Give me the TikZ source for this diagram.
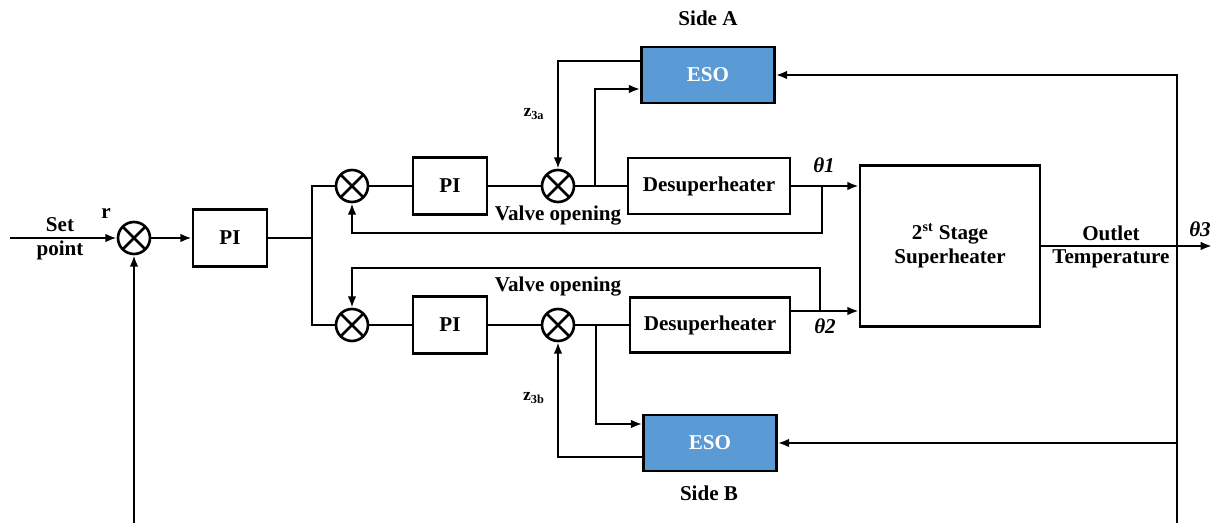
\documentclass[tikz,border=0pt]{standalone}
\usepackage{fontspec}
\setmainfont{Liberation Serif}
\usetikzlibrary{positioning, arrows.meta}
\definecolor{esoblue}{HTML}{5B9BD5}

\begin{document}
\begin{tikzpicture}
		[
		x=0.02cm, y=-0.02cm, font=\bfseries\fontsize{12}{14}\selectfont,
		>={Latex[length=6.5pt,width=5pt]},
		line width=1.5pt,
		%Voreinstellungen
		block/.style={draw, inner sep=0pt, minimum width=1.48cm, minimum height=1.14cm},
		esobox/.style={draw, fill=esoblue, text=white, inner sep=0pt, minimum width=2.66cm, minimum height=1.12cm},
		sum/.style={draw, circle, inner sep=0pt, minimum size=0.64cm,
			path picture={\draw (path picture bounding box.south west) -- (path picture bounding box.north east)
				(path picture bounding box.north west) -- (path picture bounding box.south east);}},
		lbl/.style={inner sep=1pt}
		]
		
		%Rahmen
		\useasboundingbox (0,0) rectangle (1218,523);
		
		%Hauptzweig
		\node[sum] (s0) at (134,238) {};
		\node[block] (pi0) at (230,238) {PI};
		\coordinate (in) at (10,238);
		\coordinate (br) at (312,238);
		\node[lbl] (set) at (60,225) {Set};
		\node[lbl] (point) at (60,250) {point};
		\node[lbl] (r) at (106,214) {r};
		
		%Seite A
		\node[sum] (sa1) at (352,186) {};
		\node[block] (pia) at (450,186) {PI};
		\node[sum] (sa2) at (558,186) {};
		\node[block, minimum width=3.24cm, minimum height=1.12cm] (da) at (709,186) {Desuperheater};
		\node[esobox] (esoa) at (708,75) {ESO};
		\node[lbl] (sidea) at (708,18) {Side A};
		
		%Seite B
		\node[sum] (sb1) at (352,325) {};
		\node[block] (pib) at (450,325) {PI};
		\node[sum] (sb2) at (558,325) {};
		\node[block, minimum width=3.2cm, minimum height=1.1cm] (db) at (710,325) {Desuperheater};
		\node[esobox] (esob) at (710,443) {ESO};
		\node[lbl] (sideb) at (709,493) {Side B};
		
		%Ueberhitzer
		\node[block, minimum width=3.6cm, minimum height=3.22cm, align=center] (sh) at (950,246)
			{2\textsuperscript{st} Stage\\Superheater};
		
		%Hilfspunkte
		\coordinate (fa1) at (822,186);
		\coordinate (fa2) at (822,233);
		\coordinate (za) at (558,61);
		\coordinate (ta1) at (595,186);
		\coordinate (ta2) at (595,89);
		\coordinate (yb) at (0,311);
		\coordinate (fb1) at (820,311);
		\coordinate (fb2) at (820,268);
		\coordinate (tb1) at (596,325);
		\coordinate (tb2) at (596,424);
		\coordinate (zb) at (558,457);
		\coordinate (fr0) at (1177,523);
		\coordinate (fr1) at (1177,75);
		\coordinate (fl0) at (134,523);
		\coordinate (out) at (1212,246);
		
		%Hauptzweig Verbindungen
		\draw[->] (in) -- (s0);
		\draw[->] (s0) -- (pi0);
		\draw (pi0) -- (br);
		\draw (sa1.west) -| (br) |- (sb1.west);
		\draw[->] (fl0) -- (s0.south);
		
		%Seite A Verbindungen
		\draw (sa1) -- (pia);
		\draw (pia) -- (sa2);
		\draw (sa2) -- (da);
		\draw[->] (da.east) -- (da.east -| sh.west);
		\draw[->] (fa1) -- (fa2) -| (sa1.south);
		\draw[->] (esoa.west |- za) -- (za) -- (sa2.north);
		\draw[->] (ta1) -- (ta2) -- (ta2 -| esoa.west);
		\node[lbl] (va) at (558,216) {Valve opening};
		\node[lbl] (th1) at (824,165) {\textit{θ1}};
		\node[lbl, font=\bfseries\fontsize{10}{12}\selectfont] (z3a) at (534,114) {z\textsubscript{3a}};
		
		%Seite B Verbindungen
		\draw (sb1) -- (pib);
		\draw (pib) -- (sb2);
		\draw (sb2) -- (db);
		\draw[->] (db.east |- yb) -- (sh.west |- yb);
		\draw[->] (fb1) -- (fb2) -| (sb1.north);
		\draw[->] (tb1) -- (tb2) -- (tb2 -| esob.west);
		\draw[->] (esob.west |- zb) -- (zb) -- (sb2.south);
		\node[lbl] (vb) at (558,287) {Valve opening};
		\node[lbl] (th2) at (825,326) {\textit{θ2}};
		\node[lbl, font=\bfseries\fontsize{10}{12}\selectfont] (z3b) at (534,398) {z\textsubscript{3b}};
		
		%Ausgang und Rueckfuehrung
		\draw[->] (sh.east) -- (out);
		\draw[->] (fr0) -- (fr1) -- (esoa.east);
		\draw[->] (esob.east -| fr0) -- (esob.east);
		\node[lbl] (outl) at (1111,233) {Outlet};
		\node[lbl] (temp) at (1111,259) {Temperature};
		\node[lbl] (th3) at (1200,229) {\textit{θ3}};
		
	\end{tikzpicture}
\end{document}
